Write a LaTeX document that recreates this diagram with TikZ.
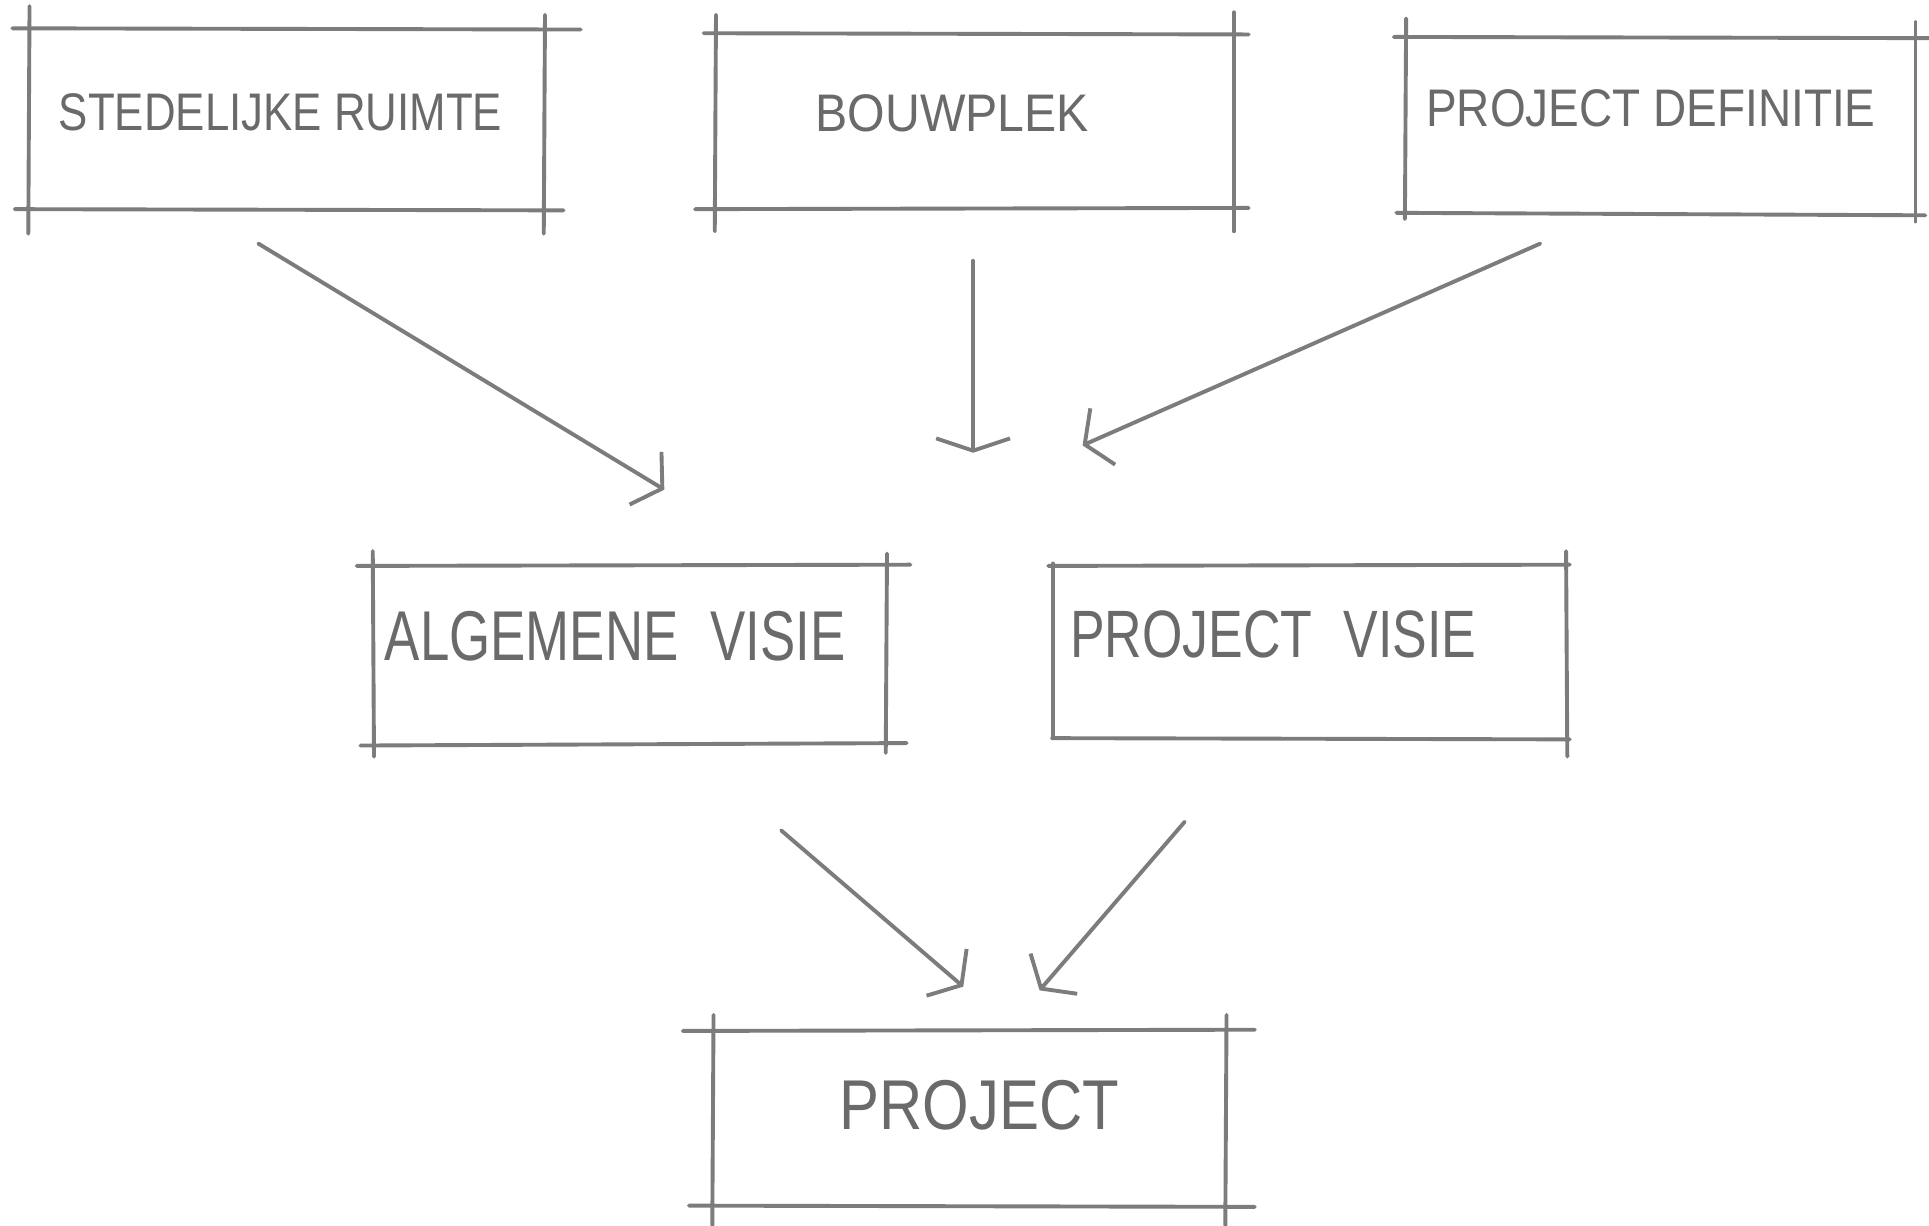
\documentclass[tikz,border=0pt]{standalone}
\usepackage{fontspec}
\setmainfont{Liberation Sans}
\usetikzlibrary{arrows.meta}
\definecolor{pencil}{HTML}{7C7C7C}
\definecolor{ink}{HTML}{6A6A6A}
\begin{document}
\begin{tikzpicture}[x=0.01cm,y=-0.01cm,
  sk/.style={draw=pencil,line width=0.9pt,line cap=round},
  arr/.style={sk,-{Straight Barb[length=0.16cm,width=0.5cm,line width=0.9pt]}},
  lbl/.style={text=ink,inner sep=0pt,anchor=center}]
\useasboundingbox[fill=white] (0,0) rectangle (1568,996);

% ---- box 1: STEDELIJKE RUIMTE
\draw[sk] (10,23) -- (472,24);
\draw[sk] (12,170) -- (458,171);
\draw[sk] (24,5) -- (23,190);
\draw[sk] (443,12) -- (442,190);
\node[lbl] (t1) at (228,91) {\resizebox{3.6cm}{0.3cm}{STEDELIJKE RUIMTE}};

% ---- box 2: BOUWPLEK
\draw[sk] (572,27) -- (1015,28);
\draw[sk] (565,170) -- (1015,169);
\draw[sk] (582,12) -- (581,188);
\draw[sk] (1003,10) -- (1003,188);
\node[lbl] (t2) at (774,92) {\resizebox{2.22cm}{0.3cm}{BOUWPLEK}};

% ---- box 3: PROJECT DEFINITIE
\draw[sk] (1133,30) -- (1568,31);
\draw[sk] (1135,173) -- (1565,175);
\draw[sk] (1143,15) -- (1142,178);
\draw[sk] (1557,18) -- (1557,180);
\node[lbl] (t3) at (1342,88) {\resizebox{3.65cm}{0.3cm}{PROJECT DEFINITIE}};

% ---- box 4: ALGEMENE VISIE
\draw[sk] (290,460) -- (740,459);
\draw[sk] (293,606) -- (737,604);
\draw[sk] (303,448) -- (304,615);
\draw[sk] (721,450) -- (720,612);
\node[lbl] (t4) at (500,517) {\resizebox{3.74cm}{0.4cm}{ALGEMENE\hspace{0.6em}VISIE}};

% ---- box 5: PROJECT VISIE
\draw[sk] (852,460) -- (1276,459);
\draw[sk] (855,600) -- (1276,601);
\draw[sk] (856,458) -- (856,600);
\draw[sk] (1273,448) -- (1274,615);
\node[lbl] (t5) at (1035,516) {\resizebox{3.3cm}{0.38cm}{PROJECT\hspace{0.6em}VISIE}};

% ---- box 6: PROJECT
\draw[sk] (555,838) -- (1020,837);
\draw[sk] (560,980) -- (1020,981);
\draw[sk] (580,825) -- (579,996);
\draw[sk] (997,825) -- (996,996);
\node[lbl] (t6) at (796,898) {\resizebox{2.27cm}{0.4cm}{PROJECT}};

% ---- arrow end points
\coordinate (a1s) at (210,198);  \coordinate (a1e) at (540,398);
\coordinate (a2s) at (791,212);  \coordinate (a2e) at (791,368);
\coordinate (a3s) at (1252,198); \coordinate (a3e) at (880,362);
\coordinate (a4s) at (635,675);  \coordinate (a4e) at (783,802);
\coordinate (a5s) at (963,668);  \coordinate (a5e) at (845,805);

\draw[arr] (a1s) -- (a1e);
\draw[arr,-{Straight Barb[length=0.1cm,width=0.6cm,line width=0.9pt]}] (a2s) -- (a2e);
\draw[arr] (a3s) -- (a3e);
\draw[arr] (a4s) -- (a4e);
\draw[arr] (a5s) -- (a5e);
\end{tikzpicture}
\end{document}
